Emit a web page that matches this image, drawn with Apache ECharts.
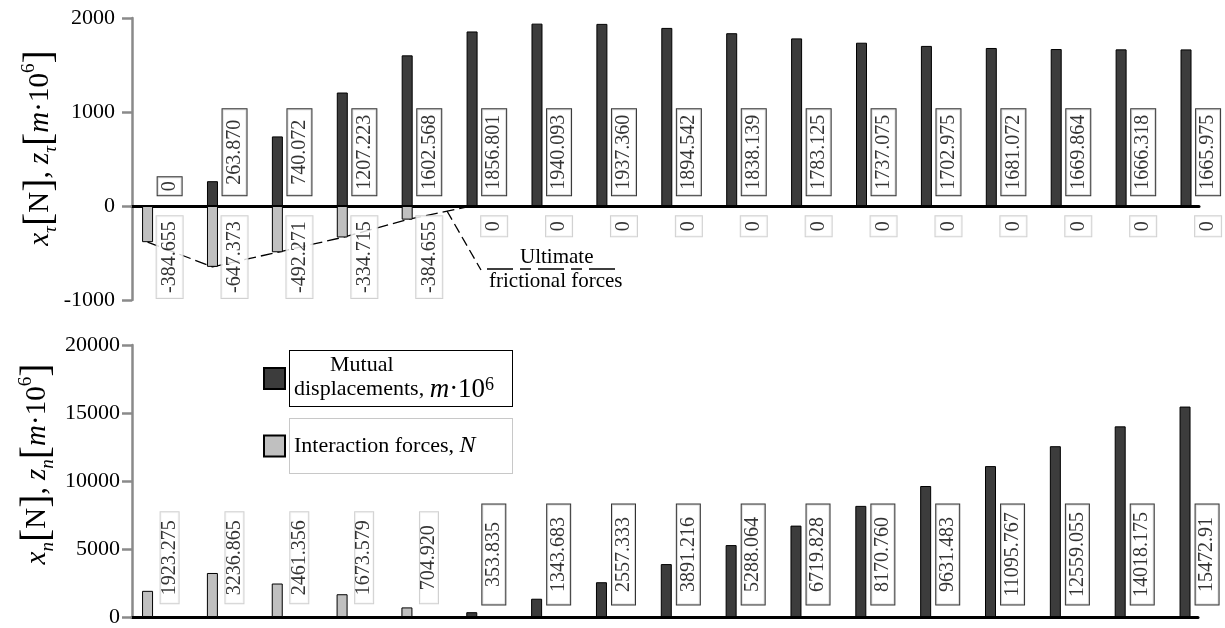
<!DOCTYPE html>
<html>
<head>
<meta charset="utf-8">
<title>Displacements and interaction forces</title>
<script src="https://cdn.jsdelivr.net/npm/echarts@6/dist/echarts.min.js"></script>
<style>
  html, body { margin: 0; padding: 0; background: #fff; }
  #chart { width: 1225px; height: 628px; }
</style>
</head>
<body>
<div id="chart"></div>
<script>
// stages along the contact (x positions are the stage indices 0..16)
const stages = [1, 2, 3, 4, 5, 6, 7, 8, 9, 10, 11, 12, 13, 14, 15, 16, 17]

// tangential direction (top chart)
const topDarkText = ['0', '263.870', '740.072', '1207.223', '1602.568', '1856.801', '1940.093', '1937.360', '1894.542',
  '1838.139', '1783.125', '1737.075', '1702.975', '1681.072', '1669.864', '1666.318', '1665.975']
const topDark = topDarkText.map(Number)
const topLight = [-384.655, -647.373, -492.271, -334.715, -145, 0, 0, 0, 0, 0, 0, 0, 0, 0, 0, 0, 0]
const topLightText = ['-384.655', '-647.373', '-492.271', '-334.715', '-384.655', '0', '0', '0', '0',
  '0', '0', '0', '0', '0', '0', '0', '0']
const topTicks = [-1000, 0, 1000, 2000]

// normal direction (bottom chart)
const bottomDark = [0, 0, 0, 0, 0, 353.835, 1343.683, 2557.333, 3891.216, 5288.064, 6719.828, 8170.760,
  9631.483, 11095.767, 12559.055, 14018.175, 15472.91]
const bottomDarkText = ['', '', '', '', '', '353.835', '1343.683', '2557.333', '3891.216', '5288.064', '6719.828',
  '8170.760', '9631.483', '11095.767', '12559.055', '14018.175', '15472.91']
const bottomLight = [1923.275, 3236.865, 2461.356, 1673.579, 704.920, 0, 0, 0, 0, 0, 0, 0, 0, 0, 0, 0, 0]
const bottomLightText = ['1923.275', '3236.865', '2461.356', '1673.579', '704.920', '', '', '', '', '', '', '', '', '', '', '', '']
const bottomTicks = [0, 5000, 10000, 15000, 20000]

const darkName = 'Mutual displacements'
const lightName = 'Interaction forces'

const SERIF = "'Liberation Serif', 'Times New Roman', serif"
const DARK = '#3c3c3c'
const LIGHT = '#c0c0c0'
const LABEL_DX = 0.34 // labels sit right of the bars

function xy(arr) {
  return arr.map((v, i) => [i, v])
}

function labelBox(extra) {
  return Object.assign({
    show: true,
    position: 'inside',
    rotate: 90,
    align: 'center',
    verticalAlign: 'middle',
    fontFamily: SERIF,
    fontSize: 20,
    lineHeight: 20,
    color: '#000',
    backgroundColor: '#fff',
    borderWidth: 1
  }, extra)
}

function labelSeries(texts, yAnchor, xAxisIndex, label, smallZero) {
  const data = []
  texts.forEach((t, i) => {
    if (t === '') return
    if (smallZero && t === '0') {
      data.push({ value: [i + LABEL_DX, smallZero.y], name: t, label: smallZero.label })
    } else {
      data.push({ value: [i + LABEL_DX, yAnchor], name: t })
    }
  })
  return {
    type: 'scatter',
    xAxisIndex: xAxisIndex,
    yAxisIndex: xAxisIndex,
    symbolSize: 0,
    silent: true,
    clip: false,
    z: 5,
    label: Object.assign(label, { formatter: p => p.name }),
    data: data
  }
}

const xAxisBase = {
  type: 'value',
  min: -0.24,
  max: 16.2,
  axisLine: { show: true, onZero: true, lineStyle: { color: '#000', width: 3 } },
  axisTick: { show: false },
  axisLabel: { show: false },
  splitLine: { show: false }
}

const yAxisBase = {
  type: 'value',
  axisLine: { show: true, onZero: false, lineStyle: { color: '#8a8a8a', width: 2.5 } },
  axisTick: { show: true, length: 10, lineStyle: { color: '#8a8a8a', width: 2.5 } },
  splitLine: { show: false }
}

const barBase = {
  type: 'bar',
  barWidth: 11,
  barGap: '-100%',
  z: 3
}

const titleRich = {
  x: { fontFamily: SERIF, fontSize: 29, fontStyle: 'italic' },
  s: { fontFamily: SERIF, fontSize: 19, fontStyle: 'italic', verticalAlign: 'bottom' },
  n: { fontFamily: SERIF, fontSize: 29 },
  b: { fontFamily: SERIF, fontSize: 40 },
  p: { fontFamily: SERIF, fontSize: 19, verticalAlign: 'top' }
}

const option = {
  animation: false,
  backgroundColor: '#fff',
  grid: [
    { left: 132, right: 26, top: 18, bottom: 328 },
    { left: 132, right: 27, top: 345, bottom: 5 }
  ],
  xAxis: [
    Object.assign({ gridIndex: 0 }, xAxisBase),
    Object.assign({ gridIndex: 1 }, xAxisBase)
  ],
  yAxis: [
    Object.assign({}, yAxisBase, {
      gridIndex: 0,
      min: topTicks[0],
      max: topTicks[topTicks.length - 1],
      interval: topTicks[1] - topTicks[0],
      axisLabel: { fontFamily: SERIF, fontSize: 22, color: '#000', margin: 17, formatter: v => String(v) }
    }),
    Object.assign({}, yAxisBase, {
      gridIndex: 1,
      min: bottomTicks[0],
      max: bottomTicks[bottomTicks.length - 1],
      interval: bottomTicks[1] - bottomTicks[0],
      axisLabel: { fontFamily: SERIF, fontSize: 22, color: '#000', margin: 12, formatter: v => String(v) }
    })
  ],
  legend: {
    orient: 'vertical',
    left: 258,
    top: 345,
    itemWidth: 21,
    itemHeight: 21,
    itemGap: 11,
    icon: 'rect',
    selectedMode: false,
    textStyle: {
      fontFamily: SERIF,
      fontSize: 22,
      color: '#000',
      width: 214,
      padding: [3, 4, 3, 4],
      borderWidth: 1,
      backgroundColor: '#fff',
      rich: {
        pad: { fontFamily: SERIF, fontSize: 22, padding: [0, 0, 0, 36] },
        t: { fontFamily: SERIF, fontSize: 22 },
        mi: { fontFamily: SERIF, fontSize: 27, fontStyle: 'italic' },
        m: { fontFamily: SERIF, fontSize: 27 },
        sup: { fontFamily: SERIF, fontSize: 18, verticalAlign: 'top' },
        ni: { fontFamily: SERIF, fontSize: 24, fontStyle: 'italic' }
      }
    },
    data: [
      { name: darkName, textStyle: { borderColor: '#000' } },
      { name: lightName, textStyle: { borderColor: '#c8c8c8', padding: [15, 4, 15, 4] } }
    ],
    formatter: function(name) {
      if (name === darkName) {
        return '{pad|Mutual}\n{t|displacements, }{mi|m}{m|·10}{sup|6}'
      }
      return '{t|Interaction forces, }{ni|N}'
    }
  },
  graphic: [
    {
      type: 'text',
      x: 40,
      y: 148,
      rotation: Math.PI / 2,
      style: {
        text: '{x|x}{s|τ}{b|[}{n|N}{b|]}{n|, }{x|z}{s|τ}{b|[}{x|m}{n|·10}{p|6}{b|]}',
        rich: titleRich,
        align: 'center',
        verticalAlign: 'middle',
        fill: '#000'
      }
    },
    {
      type: 'text',
      x: 37,
      y: 464,
      rotation: Math.PI / 2,
      style: {
        text: '{x|x}{s|n}{b|[}{n|N}{b|]}{n|, }{x|z}{s|n}{b|[}{x|m}{n|·10}{p|6}{b|]}',
        rich: titleRich,
        align: 'center',
        verticalAlign: 'middle',
        fill: '#000'
      }
    },
    // "Ultimate frictional forces" callout
    {
      type: 'polyline',
      shape: { points: [[447, 211], [481, 270]] },
      style: { stroke: '#000', lineWidth: 1.3, lineDash: [10, 5], fill: null }
    },
    {
      type: 'line',
      shape: { x1: 487, y1: 269, x2: 616, y2: 269 },
      style: { stroke: '#000', lineWidth: 1.3, lineDash: [26, 7, 11, 7] }
    },
    {
      type: 'text',
      x: 520,
      y: 247,
      style: { text: 'Ultimate', fontFamily: SERIF, fontSize: 21, fill: '#000' }
    },
    {
      type: 'text',
      x: 489,
      y: 271,
      style: { text: 'frictional forces', fontFamily: SERIF, fontSize: 21, fill: '#000' }
    }
  ],
  series: [
    // ultimate frictional forces envelope
    {
      type: 'line',
      xAxisIndex: 0,
      yAxisIndex: 0,
      symbol: 'none',
      silent: true,
      z: 1,
      lineStyle: { color: '#000', width: 1.3, type: [12, 5] },
      data: xy(topLight.slice(0, 6))
    },
    Object.assign({}, barBase, {
      name: darkName,
      xAxisIndex: 0,
      yAxisIndex: 0,
      itemStyle: { color: DARK, borderColor: '#000', borderWidth: 1 },
      data: xy(topDark)
    }),
    Object.assign({}, barBase, {
      name: lightName,
      xAxisIndex: 0,
      yAxisIndex: 0,
      itemStyle: { color: LIGHT, borderColor: '#000', borderWidth: 1 },
      data: xy(topLight)
    }),
    Object.assign({}, barBase, {
      name: darkName,
      xAxisIndex: 1,
      yAxisIndex: 1,
      itemStyle: { color: DARK, borderColor: '#000', borderWidth: 1 },
      data: xy(bottomDark)
    }),
    Object.assign({}, barBase, {
      name: lightName,
      xAxisIndex: 1,
      yAxisIndex: 1,
      itemStyle: { color: LIGHT, borderColor: '#000', borderWidth: 1 },
      data: xy(bottomLight)
    }),
    // value boxes
    labelSeries(topDarkText, 572, 0,
      labelBox({ width: 80, padding: [2, 3, 2, 3], borderColor: '#000' }),
      { y: 210, label: { width: 10, padding: [2, 4, 2, 4] } }),
    labelSeries(topLightText, -110, 0,
      labelBox({ align: 'right', padding: [3, 5, 3, 5], borderColor: '#c4c4c4' })),
    labelSeries(bottomDarkText, 4604, 1,
      labelBox({ width: 94, padding: [1.5, 3, 1.5, 3], borderColor: '#000' })),
    labelSeries(bottomLightText, 4352, 1,
      labelBox({ width: 85, lineHeight: 18, padding: [0, 3, 0, 3], borderColor: '#c4c4c4' }))
  ]
}

const myChart = echarts.init(document.getElementById('chart'))
myChart.setOption(option)
</script>
</body>
</html>
